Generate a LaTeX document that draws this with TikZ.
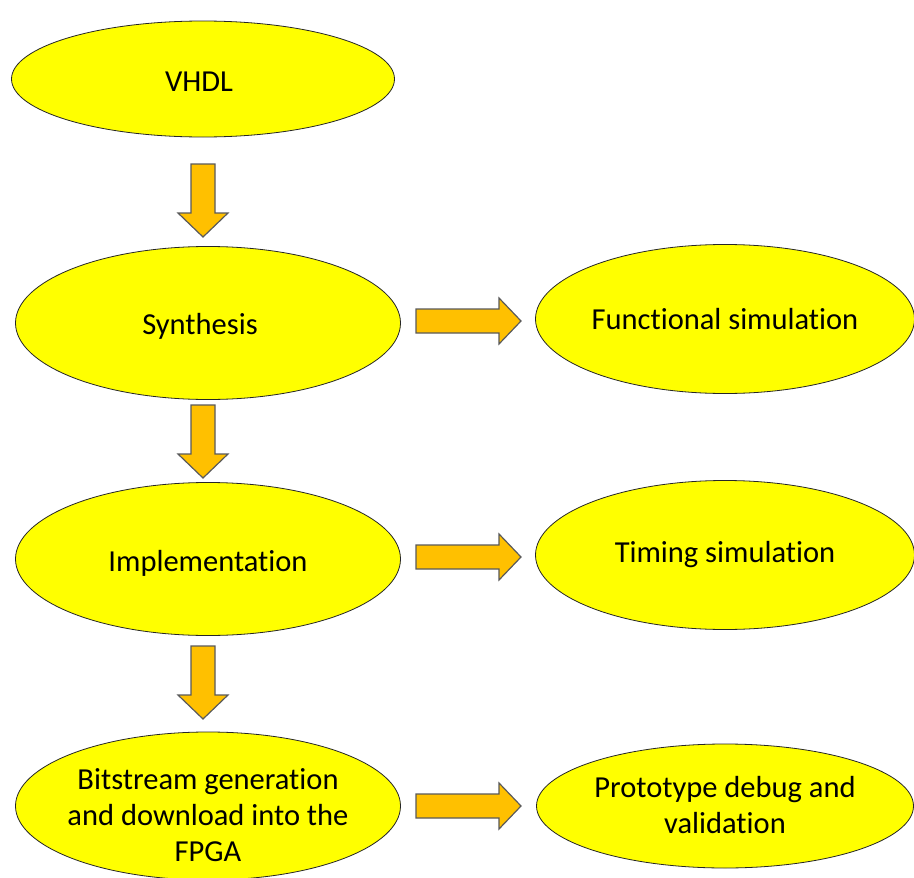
\documentclass[tikz,border=0pt]{standalone}
\usepackage{fontspec}
\setmainfont{Carlito}[Ligatures=NoCommon]
\usetikzlibrary{shapes.geometric}
\definecolor{stepyellow}{HTML}{FFFF00}
\definecolor{arrowgold}{HTML}{FFC000}
\definecolor{arrowedge}{HTML}{5A5A5A}
\begin{document}
\begin{tikzpicture}[x=1pt,y=-1pt,
  stage/.style={ellipse, draw=black!85, line width=0.8pt, fill=stepyellow, inner sep=0pt},
  stagetext/.style={align=center, inner sep=0pt, font=\fontsize{30.5}{36}\selectfont},
  blockarrow/.style={draw=arrowedge, line width=1.2pt, fill=arrowgold, line join=miter},
  downarrow/.pic={\path[blockarrow] (-12,0) -- (12,0) -- (12,49) -- (25,49) -- (0,73) -- (-25,49) -- (-12,49) -- cycle;},
  rightarrow/.pic={\path[blockarrow] (0,-12) -- (83,-12) -- (83,-23) -- (105,0) -- (83,23) -- (83,12) -- (0,12) -- cycle;}
]
\useasboundingbox (0,0) rectangle (914,878);
\fill[white] (0,0) rectangle (914,878);

% main flow
\node[stage, minimum width=383pt, minimum height=116pt] (vhdl) at (203,79) {};
\node[stage, minimum width=385pt, minimum height=153pt] (synth) at (208,323) {};
\node[stage, minimum width=385pt, minimum height=153pt] (impl) at (208,559) {};
\node[stage, minimum width=385pt, minimum height=148pt] (bits) at (208,806) {};

% side steps
\node[stage, minimum width=379pt, minimum height=149pt] (func) at (725,319) {};
\node[stage, minimum width=379pt, minimum height=149pt] (timing) at (725,555) {};
\node[stage, minimum width=377pt, minimum height=124pt] (proto) at (725,806) {};

% stage captions
\node[stagetext] (vhdl-t) at ([shift={(-4,3)}]vhdl.center) {VHDL};
\node[stagetext] (synth-t) at ([shift={(-8,3)}]synth.center) {Synthesis};
\node[stagetext] (impl-t) at ([shift={(0,4)}]impl.center) {Implementation};
\node[stagetext] (bits-t) at ([shift={(0,9)}]bits.center)
  {Bitstream generation\\and download into the\\FPGA};
\node[stagetext] (func-t) at (func.center) {Functional simulation};
\node[stagetext] (timing-t) at (timing.center) {Timing simulation};
\node[stagetext] (proto-t) at ([shift={(0,-1)}]proto.center) {Prototype debug and\\validation};

% block arrows between the stages
\pic (a1) at (203,164) {downarrow};
\pic (a2) at (203,405) {downarrow};
\pic (a3) at (203,646) {downarrow};
\pic (b1) at (416,321) {rightarrow};
\pic (b2) at (416,557) {rightarrow};
\pic (b3) at (416,806) {rightarrow};
\end{tikzpicture}
\end{document}
